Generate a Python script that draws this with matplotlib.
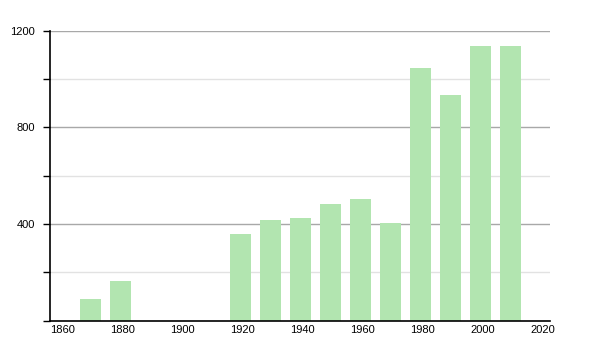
import matplotlib
matplotlib.use("Agg")
import matplotlib.pyplot as plt
from matplotlib.ticker import MultipleLocator

years = [1870, 1880, 1920, 1930, 1940, 1950, 1960, 1970, 1980, 1990, 2000, 2010]
population = [89, 165, 360, 416, 426, 483, 502, 405, 1044, 933, 1138, 1138]
x_ticks = [1860, 1880, 1900, 1920, 1940, 1960, 1980, 2000, 2020]
y_ticks = [400, 800, 1200]

plt.rcParams['font.family'] = ['Liberation Sans', 'DejaVu Sans']
fig = plt.figure(figsize=(6, 3.5), dpi=100)
ax = fig.add_axes([50/600, 1 - 320.6/350, 500/600, (320.6 - 30.7)/350])

ax.bar(years, population, width=7, align='edge', color='#b2e5b0', edgecolor='none', zorder=2)

ax.set_xlim(1860, 1860 + 500/3)
ax.set_ylim(0, 1200)

ax.yaxis.set_major_locator(MultipleLocator(400))
ax.yaxis.set_minor_locator(MultipleLocator(200))
ax.set_yticks(y_ticks)
ax.set_yticklabels([str(v) for v in y_ticks])
ax.grid(axis='y', which='major', color='#a8a8a8', linewidth=1, zorder=0)
ax.grid(axis='y', which='minor', color='#e2e2e2', linewidth=1, zorder=0)
ax.set_axisbelow(True)

ax.set_xticks(x_ticks)
ax.set_xticklabels([str(v) for v in x_ticks], ha='left')
ax.tick_params(axis='x', length=0, pad=3, labelsize=8, colors='black')
ax.tick_params(axis='y', which='both', length=5, width=1, labelsize=8, pad=6)
ax.tick_params(axis='y', which='minor', length=5, width=1)

for s in ['top', 'right']:
    ax.spines[s].set_visible(False)
for s in ['left', 'bottom']:
    ax.spines[s].set_color('black')
    ax.spines[s].set_linewidth(1.2)

fig.savefig('out.png', dpi=100)
